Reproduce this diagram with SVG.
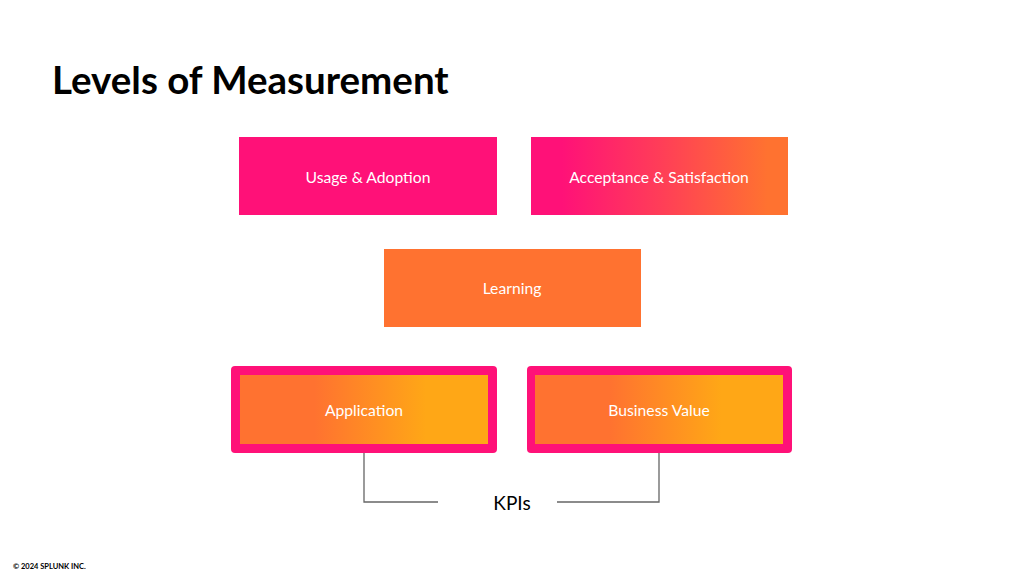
<svg xmlns="http://www.w3.org/2000/svg" width="1024" height="576" viewBox="0 0 1024 576">
<style>
.lbl{font-family:"Lato","Open Sans",sans-serif;font-size:15.7px;fill:#ffffff;text-anchor:middle;dominant-baseline:central}
.title{font-family:"Lato","Noto Sans",sans-serif;font-weight:700;font-size:38.5px;fill:#000}
.frame{fill:#FF1178}
.conn{fill:none;stroke:#666;stroke-width:1.3}
</style>
<defs>
<linearGradient id="gPO" x1="0" y1="0" x2="1" y2="0">
<stop offset="0" stop-color="#FF1178"/>
<stop offset="0.12" stop-color="#FF1178"/>
<stop offset="0.5" stop-color="#FF3D58"/>
<stop offset="0.92" stop-color="#FF7230"/>
<stop offset="1" stop-color="#FF7230"/>
</linearGradient>
<linearGradient id="gOY" x1="0" y1="0" x2="1" y2="0">
<stop offset="0" stop-color="#FF7230"/>
<stop offset="0.3" stop-color="#FF7230"/>
<stop offset="0.75" stop-color="#FFA716"/>
<stop offset="1" stop-color="#FFA716"/>
</linearGradient>
</defs>
<rect width="1024" height="576" fill="#fff"/>
<text class="title" x="52" y="94">Levels of Measurement</text>
<g id="usage">
<rect x="239" y="137" width="258" height="78" fill="#FF1178"/>
<text class="lbl" x="368" y="177">Usage &amp; Adoption</text>
</g>
<g id="acceptance">
<rect x="531" y="137" width="257" height="78" fill="url(#gPO)"/>
<text class="lbl" x="659" y="177">Acceptance &amp; Satisfaction</text>
</g>
<g id="learning">
<rect x="384" y="249" width="257" height="78" fill="#FF7230"/>
<text class="lbl" x="512" y="288">Learning</text>
</g>
<g id="application">
<rect class="frame" x="231" y="366" width="266" height="87" rx="4"/>
<rect x="240" y="375" width="248" height="69" fill="url(#gOY)"/>
<text class="lbl" x="364" y="410">Application</text>
</g>
<g id="business">
<rect class="frame" x="527" y="366" width="265" height="87" rx="4"/>
<rect x="535" y="375" width="248" height="69" fill="url(#gOY)"/>
<text class="lbl" x="659" y="410">Business Value</text>
</g>
<g id="connectors">
<polyline class="conn" points="364,453 364,502 438,502"/>
<polyline class="conn" points="659,453 659,502 557,502"/>
</g>
<g id="kpis">
<text x="512" y="502" style="font-family:'Lato','Noto Sans',sans-serif;font-size:19px;fill:#000;text-anchor:middle;dominant-baseline:central">KPIs</text>
</g>
<text x="13" y="569" style="font-family:'Lato','Noto Sans',sans-serif;font-size:7.5px;font-weight:700;fill:#000">© 2024 SPLUNK INC.</text>
</svg>
